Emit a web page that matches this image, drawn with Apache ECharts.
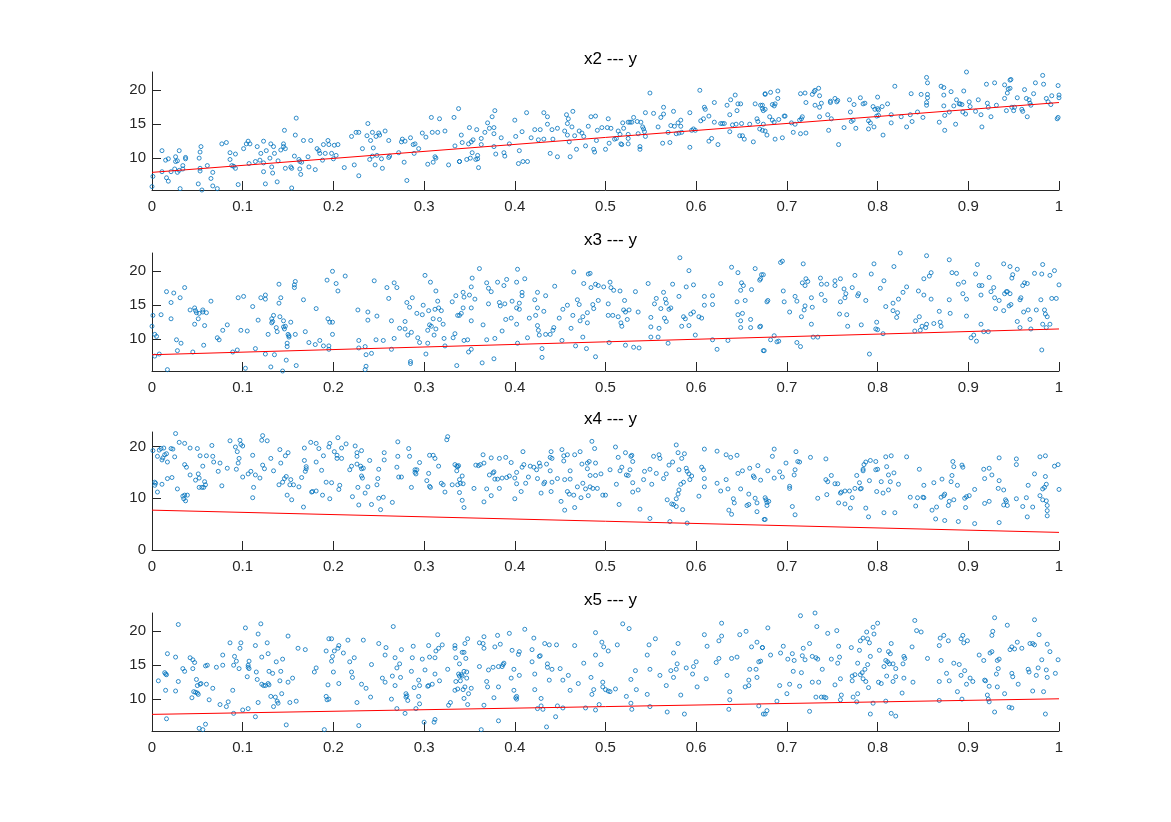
<!DOCTYPE html>
<html>
<head>
<meta charset="utf-8">
<script src="https://cdn.jsdelivr.net/npm/echarts@6/dist/echarts.min.js"></script>
<style>
  html, body { margin: 0; padding: 0; background: #fff; }
  #chart { width: 1171px; height: 822px; }
</style>
</head>
<body>
<div id="chart"></div>
<script>
// 四个子图：x2/x3/x4/x5 与 y 的散点 + 拟合直线
const titles = ['x2 --- y', 'x3 --- y', 'x4 --- y', 'x5 --- y']
const xTicksStep = 0.1
const yRange = [[5.3, 22.7], [5.3, 22.7], [0, 22.8], [5.3, 22.7]]
const yTicks = [[10, 15, 20], [10, 15, 20], [0, 10, 20], [10, 15, 20]]

// 拟合直线两端的 y 值（x = 0 和 x = 1）
const fitX2 = [7.9, 18.2]
const fitX3 = [7.7, 11.5]
const fitX4 = [7.7, 3.4]
const fitX5 = [7.75, 10.05]

const x2Pts = [
  [0,5.8],[0.001,7.3],[0.011,11.1],[0.015,9.7],[0.018,9.9],[0.016,7.1],[0.018,6.6],[0.011,8.0],[0.021,8.0],[0.026,10.2],
  [0.026,9.5],[0.028,9.6],[0.025,8.4],[0.028,7.9],[0.030,11.1],[0.030,8.2],[0.034,8.9],[0.034,8.4],[0.037,10.1],[0.037,9.9],
  [0.031,5.5],[0.051,6.2],[0.052,10.0],[0.053,10.9],[0.054,11.7],[0.053,8.5],[0.053,8.1],[0.055,5.3],[0.061,8.9],[0.065,7.0],
  [0.067,7.9],[0.067,5.9],[0.072,5.5],[0.077,12.1],[0.082,12.3],[0.086,10.8],[0.086,9.8],[0.088,8.9],[0.090,8.8],[0.092,10.6],
  [0.092,8.5],[0.095,6.1],[0.101,11.4],[0.104,12.1],[0.106,12.5],[0.108,12.1],[0.107,9.2],[0.114,9.5],[0.116,11.7],[0.119,9.7],
  [0.120,10.7],[0.123,12.5],[0.123,9.3],[0.123,8.0],[0.125,6.2],[0.126,11.1],[0.130,10.0],[0.131,12.1],[0.132,8.7],[0.133,7.8],
  [0.134,11.7],[0.135,10.7],[0.138,6.5],[0.139,9.6],[0.142,11.2],[0.145,12.1],[0.145,11.7],[0.146,14.1],[0.147,11.4],[0.147,8.5],
  [0.153,8.7],[0.154,8.5],[0.154,5.6],[0.157,10.3],[0.158,13.4],[0.159,15.9],[0.162,9.8],[0.163,8.4],[0.163,9.5],[0.164,7.6],
  [0.165,9.4],[0.167,12.6],[0.172,10.2],[0.173,8.7],[0.175,12.6],[0.180,8.3],[0.182,11.4],[0.184,11.1],[0.185,10.7],[0.188,9.7],
  [0.189,12.0],[0.191,10.7],[0.194,12.6],[0.195,12.0],[0.198,10.7],[0.200,9.9],[0.203,10.4],[0.205,12.0],[0.201,11.9],[0.212,8.6],
  [0.220,13.2],[0.223,9.0],[0.225,13.8],[0.228,7.4],[0.228,13.8],[0.232,11.4],[0.237,13.3],[0.238,15.1],[0.240,9.8],[0.241,12.6],
  [0.243,13.8],[0.243,10.3],[0.244,11.5],[0.246,9.0],[0.247,13.2],[0.248,10.4],[0.250,13.7],[0.251,13.4],[0.253,9.9],[0.254,8.5],
  [0.257,14.0],[0.261,10.1],[0.261,12.6],[0.262,10.3],[0.272,10.8],[0.275,12.4],[0.276,12.8],[0.278,9.4],[0.279,12.5],[0.281,6.7],
  [0.285,13.0],[0.288,12.0],[0.289,10.7],[0.290,12.1],[0.294,11.4],[0.298,13.7],[0.302,13.1],[0.304,9.1],[0.308,16.0],[0.309,13.8],
  [0.310,9.4],[0.312,10.2],[0.313,10.0],[0.315,13.8],[0.317,15.8],[0.323,14.0],[0.327,9.0],[0.333,16.0],[0.334,11.8],[0.338,17.3],
  [0.339,9.5],[0.341,13.4],[0.342,12.3],[0.339,9.5],[0.349,12.1],[0.350,14.5],[0.352,12.4],[0.347,9.8],[0.351,10.0],[0.353,10.8],
  [0.354,12.7],[0.357,9.8],[0.358,14.2],[0.359,10.4],[0.360,8.6],[0.359,9.9],[0.363,12.9],[0.363,12.0],[0.367,13.8],[0.370,15.2],
  [0.372,14.4],[0.375,16.1],[0.377,14.5],[0.378,17.0],[0.377,13.6],[0.379,10.6],[0.377,11.7],[0.385,13.0],[0.388,10.8],[0.389,10.3],
  [0.394,12.1],[0.400,15.6],[0.401,13.2],[0.404,9.2],[0.405,11.1],[0.408,13.9],[0.409,9.5],[0.413,16.7],[0.414,9.5],[0.418,13.0],
  [0.422,14.2],[0.426,12.7],[0.428,14.2],[0.432,12.8],[0.432,16.7],[0.436,16.1],[0.436,15.0],[0.439,10.7],[0.441,14.2],[0.442,12.8],
  [0.447,14.4],[0.447,10.2],[0.455,14.0],[0.457,16.4],[0.458,15.1],[0.458,13.4],[0.459,15.8],[0.460,12.4],[0.461,10.2],[0.463,14.6],
  [0.464,16.9],[0.466,13.3],[0.468,11.3],[0.471,14.0],[0.474,13.7],[0.476,13.2],[0.478,11.8],[0.481,14.7],[0.484,16.1],[0.487,11.3],
  [0.488,10.9],[0.489,16.2],[0.490,12.6],[0.491,14.1],[0.496,14.5],[0.500,11.3],[0.502,14.5],[0.503,15.8],[0.504,12.2],[0.506,14.4],
  [0.510,12.8],[0.512,12.9],[0.514,14.0],[0.516,13.5],[0.517,12.1],[0.518,12.0],[0.519,15.2],[0.520,14.4],[0.525,12.1],[0.525,12.9],
  [0.525,13.5],[0.525,15.3],[0.527,15.3],[0.529,15.3],[0.531,16.0],[0.535,15.4],[0.536,13.6],[0.538,11.7],[0.538,11.3],[0.539,15.3],
  [0.541,14.6],[0.542,14.3],[0.543,13.9],[0.544,13.2],[0.544,16.7],[0.549,19.6],[0.553,16.6],[0.558,14.6],[0.561,16.0],[0.563,12.2],
  [0.564,17.5],[0.564,16.5],[0.569,13.8],[0.571,12.3],[0.572,14.8],[0.575,16.9],[0.576,14.7],[0.578,13.6],[0.580,15.2],[0.581,13.7],
  [0.583,14.7],[0.583,15.6],[0.584,13.8],[0.593,11.6],[0.593,16.7],[0.595,14.1],[0.597,14.3],[0.599,14.1],[0.604,20.0],[0.605,15.5],
  [0.608,15.8],[0.609,17.5],[0.610,17.2],[0.614,12.5],[0.614,16.2],[0.617,12.9],[0.620,15.3],[0.620,18.2],[0.624,12.0],[0.627,15.1],
  [0.629,15.1],[0.631,15.1],[0.634,17.8],[0.637,16.4],[0.637,13.9],[0.638,18.6],[0.640,14.9],[0.643,19.3],[0.644,15.0],[0.645,17.0],
  [0.646,18.0],[0.648,13.3],[0.649,18.0],[0.650,15.1],[0.651,13.3],[0.653,12.8],[0.659,15.0],[0.663,12.4],[0.665,18.0],[0.667,15.8],
  [0.668,15.4],[0.670,14.3],[0.673,17.8],[0.674,15.0],[0.676,19.4],[0.676,17.2],
  [0.671,17.8],[0.673,17.3],[0.674,17.0],[0.676,19.5],[0.682,19.7],[0.684,17.9],[0.687,18.0],[0.690,19.9],[0.690,18.8],[0.686,17.7],
  [0.681,16.1],[0.684,15.6],[0.686,15.3],[0.691,15.7],[0.697,16.2],[0.698,16.2],[0.705,15.2],[0.709,15.0],[0.673,14.1],[0.676,14.0],
  [0.678,13.4],[0.687,12.8],[0.695,13.0],[0.707,13.8],[0.715,13.6],[0.721,13.7],[0.714,15.6],[0.716,15.8],[0.717,16.1],[0.715,19.5],
  [0.720,19.6],[0.721,18.2],[0.728,19.4],[0.730,19.8],[0.731,20.0],[0.735,20.3],[0.736,19.2],[0.731,17.8],[0.736,17.5],[0.738,18.1],
  [0.736,16.1],[0.745,16.4],[0.746,14.1],[0.748,18.2],[0.748,18.4],[0.749,15.8],[0.753,18.8],[0.755,18.3],[0.756,18.5],[0.757,12.0],
  [0.763,14.5],[0.769,18.6],[0.770,16.8],[0.771,15.4],[0.773,15.6],[0.774,17.9],[0.776,14.4],[0.781,18.9],[0.784,18.0],[0.786,18.1],
  [0.790,14.3],[0.790,15.5],[0.792,15.2],[0.795,17.6],[0.796,14.6],[0.797,17.2],[0.800,17.3],[0.800,19.0],[0.801,17.1],[0.799,16.2],
  [0.801,16.3],[0.805,17.6],[0.806,13.4],[0.811,18.0],[0.815,16.4],[0.815,15.2],[0.819,20.6],[0.826,16.1],[0.832,14.6],[0.836,16.4],
  [0.837,19.5],[0.838,15.4],[0.844,16.8],[0.848,19.4],[0.850,16.0],[0.854,18.2],[0.854,17.8],[0.854,21.9],[0.855,21.1],[0.855,19.4],
  [0.855,18.9],[0.868,15.3],[0.870,20.6],[0.873,20.4],[0.873,19.3],[0.873,17.7],[0.874,16.3],[0.874,14.1],[0.879,16.8],[0.881,19.8],
  [0.884,17.7],[0.886,15.0],[0.887,18.6],[0.890,18.0],[0.891,18.0],[0.893,17.9],[0.895,19.9],[0.894,16.8],[0.897,16.5],[0.898,22.7],
  [0.901,18.3],[0.902,17.6],[0.908,16.9],[0.911,18.6],[0.914,16.4],[0.915,14.6],[0.920,20.9],[0.921,18.1],[0.922,17.5],[0.925,16.1],
  [0.929,21.1],[0.931,17.8],[0.940,18.8],[0.940,20.8],[0.942,17.0],[0.943,19.6],[0.944,20.2],[0.946,20.3],[0.946,21.5],[0.947,21.6],
  [0.948,17.5],[0.950,17.0],[0.951,17.5],[0.954,18.9],[0.959,17.2],[0.960,16.9],[0.962,20.1],[0.964,18.8],[0.965,16.1],[0.967,18.6],
  [0.968,18.1],[0.969,17.8],[0.972,19.5],[0.974,21.1],[0.982,22.2],[0.983,20.9],[0.986,18.8],[0.988,18.3],[0.991,17.9],[0.992,19.2],
  [0.998,15.8],[0.999,16.0],[0.999,20.7],[1.0,19.3],[1.0,18.9]
]

const x3Pts = [
  [0,11.9],[0.001,13.5],[0.003,10.7],[0.003,7.5],[0.005,10.4],[0.008,7.8],[0.010,13.6],[0.016,17.0],[0.017,5.5],[0.021,15.4],
  [0.021,13.0],[0.024,16.8],[0.027,9.9],[0.028,8.3],[0.031,16.1],[0.032,9.4],[0.036,17.6],[0.042,14.3],[0.045,8.1],[0.047,14.6],
  [0.047,12.2],[0.048,14.2],[0.049,13.9],[0.051,13.0],[0.052,13.8],[0.056,14.3],[0.056,14.0],[0.057,9.1],[0.058,12.0],[0.060,13.9],
  [0.065,15.6],[0.072,10.2],[0.074,9.9],[0.078,11.3],[0.083,12.1],[0.089,8.1],[0.094,8.4],[0.095,16.1],[0.098,11.3],[0.101,16.3],
  [0.103,5.7],[0.105,11.2],[0.111,14.8],[0.114,8.6],[0.117,12.8],[0.120,16.1],[0.125,16.5],[0.125,15.9],[0.125,7.8],[0.128,10.7],
  [0.131,5.9],[0.132,12.4],[0.132,13.0],[0.133,12.6],[0.134,13.5],[0.135,7.7],[0.137,11.7],[0.138,11.1],[0.140,18.1],[0.140,15.3],
  [0.141,13.3],[0.142,16.1],[0.144,5.3],[0.145,11.8],[0.145,12.7],[0.146,11.5],[0.147,11.9],[0.148,6.9],[0.149,9.4],[0.149,8.9],
  [0.150,10.7],[0.151,10.5],[0.151,10.3],[0.153,12.5],[0.157,17.6],[0.157,18.0],[0.158,18.5],[0.158,10.7],[0.159,6.1],[0.167,15.8],
  [0.169,11.1],[0.173,9.5],[0.180,9.2],[0.181,14.5],[0.185,9.8],[0.189,9.0],[0.193,18.7],[0.194,13.0],[0.195,9.0],[0.195,8.5],
  [0.196,12.5],[0.199,20.0],[0.199,12.5],[0.199,10.7],[0.203,18.2],[0.205,17.1],[0.213,19.3],[0.227,14.3],[0.228,8.7],[0.228,9.8],
  [0.235,8.9],[0.236,7.7],[0.236,6.0],[0.235,5.5],[0.238,12.8],[0.238,14.0],[0.242,7.9],[0.245,18.6],[0.247,9.9],[0.248,13.4],
  [0.255,9.8],[0.259,17.6],[0.261,16.0],[0.264,12.7],[0.264,8.5],[0.267,10.1],[0.267,18.3],[0.270,17.6],[0.273,11.6],[0.279,12.6],
  [0.279,11.5],[0.281,15.4],[0.282,10.6],[0.284,14.7],[0.285,6.7],[0.285,6.4],[0.286,11.0],[0.287,16.1],[0.292,13.8],[0.293,10.2],
  [0.295,9.5],[0.298,13.6],[0.299,15.0],[0.301,19.4],[0.302,7.8],[0.304,11.3],[0.304,9.4],[0.305,14.2],[0.306,12.1],[0.307,18.4],
  [0.308,11.9],[0.310,13.0],[0.311,10.6],[0.312,14.4],[0.313,11.5],[0.313,17.1],[0.315,15.6],[0.316,14.6],[0.317,12.9],[0.319,14.2],
  [0.321,12.2],[0.322,10.1],[0.323,9.0],[0.331,15.5],[0.332,10.2],[0.334,10.8],[0.335,16.4],[0.336,6.1],[0.337,13.5],
  [0.339,13.5],[0.341,13.8],[0.343,16.9],[0.343,14.6],[0.344,16.2],[0.344,9.8],[0.348,9.9],[0.349,8.1],[0.350,16.5],[0.352,17.7],
  [0.352,14.6],[0.352,12.7],[0.352,8.5],[0.353,19.0],[0.356,15.9],[0.361,20.4],[0.364,6.5],[0.365,12.1],[0.369,18.3],[0.369,9.9],
  [0.371,17.5],[0.371,15.2],[0.374,17.0],[0.377,7.1],[0.378,10.1],[0.381,18.4],[0.383,15.4],[0.384,14.9],[0.386,11.2],[0.388,17.9],
  [0.389,15.2],[0.390,12.9],[0.391,18.8],[0.396,13.1],[0.397,15.6],[0.399,5.2],[0.402,12.2],[0.402,18.4],[0.402,14.6],[0.403,20.3],
  [0.403,9.4],[0.405,14.4],[0.405,15.3],[0.408,16.9],[0.408,16.4],[0.411,18.9],[0.414,10.2],[0.416,13.1],[0.422,15.8],[0.423,13.5],
  [0.425,14.6],[0.425,16.9],[0.425,12.0],[0.426,11.3],[0.427,10.6],[0.430,8.6],[0.430,7.3],[0.432,14.1],[0.434,10.7],[0.434,16.4],
  [0.439,10.7],[0.442,11.3],[0.443,11.7],[0.444,17.8],[0.449,13.1],[0.452,9.8],[0.453,14.4],[0.458,15.0],[0.462,11.6],[0.464,13.5],
  [0.465,19.9],[0.467,9.0],[0.469,15.8],[0.471,15.1],[0.472,12.7],[0.475,10.3],[0.475,13.3],[0.476,18.2],[0.479,8.6],[0.480,13.9],
  [0.480,12.4],[0.481,19.6],[0.483,19.7],[0.484,17.6],[0.486,15.1],[0.487,14.5],[0.489,7.4],[0.489,18.1],[0.492,15.7],[0.492,17.9],
  [0.498,17.7],[0.503,13.5],[0.503,15.2],[0.504,9.5],[0.505,18.4],[0.506,17.6],[0.508,13.5],[0.509,17.2],[0.514,13.3],[0.516,17.1],
  [0.517,12.4],[0.518,11.9],[0.520,14.3],[0.521,15.7],[0.522,9.1],[0.522,14.0],[0.524,12.9],[0.526,14.3],[0.531,8.8],[0.533,17.0],
  [0.536,14.0],[0.537,8.7],[0.547,18.2],[0.550,10.3],[0.550,13.2],[0.550,11.8],[0.554,15.2],[0.556,16.0],[0.558,10.3],[0.559,11.6],
  [0.561,14.5],[0.564,16.9],[0.565,13.1],[0.566,15.9],[0.567,12.6],[0.567,15.3],[0.569,9.4],[0.570,14.4],[0.572,14.6],[0.574,18.1],
  [0.581,16.3],[0.582,22.0],[0.584,11.9],[0.586,13.3],[0.588,13.0],[0.589,17.7],[0.592,20.1],[0.592,12.0],[0.594,13.7],[0.597,18.0],
  [0.597,14.0],[0.599,10.6],[0.603,13.3],[0.606,13.1],[0.609,16.3],[0.609,15.0],[0.618,16.4],[0.618,15.1],[0.618,9.9],[0.623,8.5],
  [0.627,18.2],[0.635,9.8],[0.639,20.6],[0.645,15.5],[0.646,19.8],[0.646,13.6],[0.649,17.2],[0.649,12.7],[0.649,11.7],[0.650,18.3],
  [0.651,13.8],[0.652,17.9],[0.654,15.7],[0.660,12.9],[0.660,11.7],[0.661,17.3],[0.665,20.4],[0.670,11.8],[0.670,18.7],[0.672,19.5],
  [0.674,8.3],
  [0.671,18.9],[0.674,19.5],[0.671,11.9],[0.675,8.3],[0.678,15.5],[0.679,15.7],[0.682,9.9],[0.686,10.5],[0.689,9.6],[0.691,9.7],
  [0.693,21.3],[0.695,21.5],[0.696,17.1],[0.697,15.5],[0.703,14.0],[0.709,16.3],[0.711,15.6],[0.711,9.5],[0.715,8.9],[0.716,13.3],
  [0.718,21.1],[0.719,14.3],[0.717,18.3],[0.720,14.9],[0.720,17.9],[0.721,18.9],[0.723,18.5],[0.727,12.2],[0.727,16.1],[0.728,14.7],
  [0.729,10.3],[0.734,10.3],[0.737,19.0],[0.738,16.6],[0.738,18.1],[0.742,15.7],[0.744,18.1],[0.753,18.6],[0.753,17.9],[0.758,13.7],
  [0.759,15.5],[0.759,18.9],[0.763,17.4],[0.764,16.1],[0.765,16.7],[0.766,13.6],[0.767,11.9],[0.772,17.6],[0.775,19.4],[0.778,16.4],
  [0.779,16.7],[0.782,12.1],[0.787,15.7],[0.791,7.8],[0.793,19.6],[0.796,21.1],[0.798,11.5],[0.799,12.5],[0.800,11.4],[0.803,17.5],
  [0.806,10.8],[0.807,18.6],[0.809,14.8],[0.817,14.2],[0.818,20.7],[0.817,15.3],[0.821,13.2],[0.822,13.9],[0.823,15.9],[0.825,22.7],
  [0.828,16.9],[0.832,17.7],[0.841,11.2],[0.842,12.7],[0.845,17.1],[0.846,13.3],[0.847,11.3],[0.849,11.9],[0.851,18.9],[0.851,16.5],
  [0.853,11.7],[0.854,22.3],[0.854,12.2],[0.857,19.3],[0.859,19.8],[0.859,15.9],[0.862,12.3],[0.868,14.1],[0.869,12.5],[0.870,11.9],
  [0.879,21.7],[0.879,15.8],[0.880,13.8],[0.882,19.8],[0.887,19.7],[0.889,18.1],[0.894,16.7],[0.895,18.4],[0.898,15.9],[0.898,13.4],
  [0.903,10.2],[0.906,10.6],[0.908,19.6],[0.909,9.7],[0.910,21.0],[0.912,17.9],[0.914,16.5],[0.914,12.2],[0.915,17.9],[0.917,11.1],
  [0.922,11.1],[0.923,19.1],[0.925,17.0],[0.928,17.6],[0.929,16.1],[0.930,14.5],[0.934,15.7],[0.939,21.1],[0.939,14.2],[0.940,16.7],
  [0.942,17.0],[0.943,17.0],[0.945,14.9],[0.946,20.7],[0.946,16.7],[0.947,15.1],[0.948,19.0],[0.949,19.5],[0.954,20.3],[0.954,12.6],
  [0.957,15.8],[0.957,11.7],[0.958,16.1],[0.960,17.9],[0.961,14.0],[0.962,18.3],[0.965,18.2],[0.966,14.3],[0.968,12.9],[0.969,11.5],
  [0.973,19.7],[0.975,14.3],[0.980,15.8],[0.981,8.4],[0.981,19.6],[0.982,21.0],[0.982,12.2],[0.984,14.3],[0.985,13.7],[0.986,11.7],
  [0.987,13.3],[0.990,12.2],[0.990,19.4],[0.992,16.0],[0.995,20.1],[0.997,16.0],[1.0,18.0]
]

const x4Pts = [
  [0.001,19.2],[0.003,13.1],[0.003,12.5],[0.004,12.9],[0.006,18.1],[0.006,11.2],[0.008,19.3],[0.010,19.6],[0.011,17.4],[0.011,12.7],
  [0.012,17.8],[0.013,19.7],[0.014,18.4],[0.016,18.6],[0.017,17.0],[0.017,13.8],[0.021,19.6],[0.022,14.0],[0.023,19.5],[0.025,18.0],
  [0.026,22.5],[0.028,11.8],[0.030,20.8],[0.034,10.4],[0.035,9.9],[0.036,20.6],[0.036,16.5],[0.036,10.6],[0.037,9.5],[0.038,16.0],
  [0.039,10.6],[0.042,14.5],[0.042,19.7],[0.048,13.5],[0.050,19.6],[0.051,14.7],[0.052,13.9],[0.052,12.1],[0.053,18.2],[0.055,12.1],
  [0.056,16.2],[0.057,12.1],[0.058,13.2],[0.059,12.6],[0.060,18.2],[0.063,22.9],[0.066,20.2],[0.067,18.1],[0.068,17.0],[0.073,15.2],
  [0.075,16.8],[0.077,12.4],[0.083,15.8],[0.086,21.1],[0.092,19.9],[0.093,15.6],[0.094,19.0],[0.095,16.8],[0.096,17.7],[0.097,21.2],
  [0.098,20.4],[0.100,14.1],[0.100,20.1],[0.106,14.7],[0.109,15.2],[0.111,18.3],[0.111,10.1],[0.112,12.1],[0.114,14.5],[0.119,13.9],
  [0.121,21.2],[0.122,22.1],[0.122,16.4],[0.124,15.7],[0.127,21.1],[0.131,17.7],[0.134,15.3],[0.140,12.6],[0.141,19.4],[0.142,16.8],
  [0.144,13.1],[0.146,13.8],[0.147,18.2],[0.148,14.2],[0.149,10.6],[0.150,18.8],[0.152,12.6],[0.153,13.6],[0.154,9.7],[0.156,12.6],
  [0.162,12.2],[0.165,14.0],[0.167,8.3],[0.168,19.7],[0.168,17.3],[0.169,15.2],[0.170,16.1],[0.170,15.7],[0.175,20.8],[0.176,11.2],
  [0.177,11.3],[0.181,11.4],[0.181,20.6],[0.181,17.0],[0.184,19.6],[0.187,15.4],[0.188,10.6],[0.189,18.2],[0.192,13.1],[0.195,19.9],
  [0.196,9.9],[0.196,20.6],[0.198,13.0],[0.201,19.0],[0.204,18.3],[0.204,17.7],[0.205,21.7],[0.206,11.7],[0.207,12.5],[0.209,17.7],
  [0.209,19.7],[0.214,20.5],[0.218,15.5],[0.220,16.2],[0.221,10.3],[0.224,20.1],[0.226,18.1],[0.226,18.8],[0.226,16.6],[0.227,12.1],
  [0.228,8.7],[0.230,16.2],[0.231,15.7],[0.231,19.2],[0.231,14.3],[0.232,13.9],[0.233,15.8],[0.235,11.0],[0.238,12.2],[0.240,17.3],
  [0.242,8.8],[0.248,12.6],[0.249,13.8],[0.250,15.6],[0.250,10.0],[0.252,7.8],[0.255,10.2],[0.256,17.4],[0.256,18.8],[0.265,9.2],
  [0.270,16.0],[0.271,20.9],[0.271,18.1],[0.272,14.1],[0.275,14.1],[0.283,19.6],[0.284,18.1],[0.286,12.1],[0.290,15.0],[0.290,15.5],
  [0.291,14.7],[0.292,15.5],[0.295,16.9],[0.303,13.4],[0.305,14.8],[0.306,18.3],[0.306,12.3],[0.307,12.1],[0.310,18.3],[0.312,17.7],
  [0.316,16.2],[0.319,12.9],[0.321,12.6],[0.323,11.2],[0.325,21.3],[0.326,21.9],[0.331,12.6],[0.336,16.2],[0.337,12.6],[0.339,13.6],
  [0.334,16.5],[0.337,16.1],[0.338,16.3],[0.336,15.3],[0.342,14.3],[0.340,12.9],[0.343,12.8],[0.339,11.1],[0.342,9.6],[0.344,8.2],
  [0.355,11.9],[0.357,16.4],[0.360,16.3],[0.362,16.5],[0.365,18.4],[0.366,16.8],[0.366,9.3],[0.369,11.8],[0.372,14.5],[0.374,17.8],
  [0.374,10.5],[0.376,14.9],[0.377,15.1],[0.378,13.7],[0.381,13.7],[0.383,17.7],[0.383,11.9],[0.386,13.9],[0.390,17.9],[0.391,14.0],
  [0.394,14.3],[0.396,16.9],[0.400,9.9],[0.400,13.9],[0.402,15.0],[0.402,12.8],[0.407,11.3],[0.408,16.0],[0.409,19.0],[0.410,16.5],
  [0.412,12.9],[0.415,14.1],[0.417,16.2],[0.421,16.0],[0.424,15.5],[0.425,13.8],[0.427,16.8],[0.428,16.2],[0.429,11.0],[0.432,12.8],
  [0.433,13.1],[0.435,16.6],[0.439,17.9],[0.439,15.3],[0.440,19.0],[0.440,11.3],[0.441,17.7],[0.441,13.1],[0.447,13.8],[0.451,9.4],
  [0.452,19.4],[0.454,18.2],[0.454,17.2],[0.455,13.6],[0.455,7.7],[0.458,18.4],[0.458,11.3],[0.460,10.8],[0.461,15.3],[0.461,13.7],
  [0.465,10.6],[0.466,8.2],[0.466,18.4],[0.469,12.2],[0.472,19.0],[0.473,10.1],[0.474,16.6],[0.475,12.9],[0.478,11.8],[0.480,16.8],
  [0.480,15.7],[0.481,10.5],[0.482,17.1],[0.483,14.4],[0.483,12.2],[0.485,21.0],[0.486,11.9],[0.488,19.6],[0.489,16.8],[0.489,14.4],
  [0.491,11.9],[0.495,14.7],[0.497,10.6],[0.500,10.6],[0.505,15.5],[0.511,19.9],[0.512,12.7],[0.514,17.9],[0.515,8.8],[0.516,15.3],
  [0.518,16.0],[0.522,18.8],[0.523,14.5],[0.525,14.4],[0.527,15.5],[0.528,18.1],[0.529,18.3],[0.530,17.1],[0.530,13.0],[0.530,11.2],
  [0.536,11.6],[0.538,7.9],[0.542,13.6],[0.543,15.2],[0.549,15.6],[0.549,6.1],[0.551,12.7],[0.553,18.1],[0.556,14.8],[0.559,18.4],
  [0.560,17.7],[0.564,13.8],[0.567,14.7],[0.568,9.7],[0.570,16.4],[0.571,5.5],[0.573,8.9],[0.574,17.0],[0.575,8.8],[0.578,20.3],
  [0.578,9.9],[0.578,8.4],[0.580,18.8],[0.580,10.8],[0.581,15.5],[0.581,11.6],[0.583,12.7],[0.584,17.7],[0.585,7.8],[0.586,13.1],
  [0.587,18.6],[0.589,15.8],[0.590,15.2],[0.590,5.2],[0.592,14.7],[0.593,13.6],[0.595,14.3],[0.603,10.4],[0.606,16.0],[0.608,15.5],
  [0.609,19.5],[0.609,13.8],[0.609,12.2],[0.623,19.1],[0.623,12.9],[0.627,11.4],[0.633,18.4],[0.633,13.6],[0.635,11.8],[0.636,7.7],
  [0.638,17.9],[0.639,6.9],[0.641,9.9],[0.642,9.1],[0.645,18.3],[0.646,14.8],[0.649,11.8],[0.651,15.3],[0.656,8.6],[0.658,10.8],
  [0.658,8.8],[0.659,15.8],[0.663,14.3],[0.664,14.0],[0.665,10.0],[0.667,9.1],[0.667,7.4],[0.668,16.3],[0.671,13.5],[0.675,5.9],
  [0.676,10.1],[0.677,9.7],[0.678,9.2],[0.678,8.6],[0.680,9.4],[0.676,5.9],[0.679,15.3],[0.684,18.1],[0.686,19.5],[0.686,13.9],
  [0.692,15.1],[0.695,14.1],[0.699,16.8],[0.703,12.3],[0.703,11.9],[0.706,8.4],[0.708,14.5],[0.709,6.8],[0.709,15.5],[0.710,19.0],
  [0.712,17.1],[0.714,17.0],[0.726,17.9],[0.734,10.0],[0.743,17.6],[0.743,13.6],[0.744,10.7],[0.745,13.2],[0.749,14.4],[0.753,12.8],
  [0.756,12.8],[0.757,9.1],[0.759,11.0],[0.760,11.2],[0.764,11.4],[0.764,8.9],[0.769,11.4],[0.770,8.1],[0.772,10.1],[0.775,11.9],
  [0.777,14.4],[0.780,13.0],[0.781,11.8],[0.782,11.9],[0.784,15.6],[0.784,15.3],[0.785,16.5],[0.787,17.0],[0.787,8.1],[0.790,6.4],
  [0.791,13.4],[0.792,17.3],[0.798,17.1],[0.798,15.5],[0.799,11.3],[0.800,15.6],[0.804,13.2],[0.806,11.0],[0.807,7.2],[0.809,18.0],
  [0.810,16.1],[0.812,14.5],[0.812,11.6],[0.814,13.2],[0.815,18.2],[0.818,14.9],[0.819,7.2],[0.823,12.7],[0.832,18.0],[0.836,10.2],
  [0.842,8.5],[0.844,10.1],[0.846,15.6],[0.850,10.2],[0.851,10.1],[0.851,12.5],[0.860,7.7],[0.862,13.0],[0.864,6.0],[0.865,8.3],
  [0.870,10.2],[0.871,13.7],[0.873,10.5],[0.874,10.8],[0.874,5.7],[0.878,8.6],[0.879,9.4],[0.881,13.2],[0.882,14.4],[0.883,17.1],
  [0.884,9.7],[0.884,16.1],[0.888,12.5],[0.889,5.5],[0.893,16.4],[0.894,16.0],[0.896,10.0],[0.897,8.2],[0.898,10.3],[0.901,10.5],
  [0.907,11.7],[0.907,5.1],[0.917,15.6],[0.918,13.8],[0.918,9.0],[0.923,15.8],[0.923,9.4],[0.926,14.5],[0.933,11.9],[0.934,17.8],
  [0.934,13.4],[0.934,5.3],[0.939,11.6],[0.939,8.7],[0.941,9.7],[0.942,9.4],[0.943,8.6],[0.953,17.6],[0.953,16.5],[0.953,9.9],
  [0.960,8.4],[0.964,10.1],[0.965,6.4],[0.966,12.5],[0.971,8.3],[0.973,14.7],[0.979,18.0],[0.979,10.5],[0.982,11.8],[0.982,9.7],
  [0.984,12.1],[0.985,14.2],[0.985,18.2],[0.986,12.7],[0.986,9.5],[0.987,8.6],[0.987,7.6],[0.987,6.6],[0.995,16.2],[0.999,16.5],
  [1.0,11.7]
]

const x5Pts = [
  [0.007,12.7],[0.014,13.9],[0.015,13.7],[0.016,13.6],[0.015,11.3],[0.016,7.1],[0.017,16.7],[0.026,16.2],[0.026,11.2],[0.029,21.0],
  [0.029,12.6],[0.034,14.5],[0.036,14.1],[0.042,16.1],[0.044,10.2],[0.045,15.8],[0.045,14.5],[0.046,11.1],[0.047,15.4],[0.048,11.0],
  [0.049,12.9],[0.050,10.9],[0.050,12.0],[0.051,10.7],[0.052,5.7],[0.053,12.2],[0.054,12.3],[0.056,5.5],[0.059,14.9],[0.059,6.3],
  [0.060,12.2],[0.061,15.0],[0.063,9.9],[0.067,11.6],[0.071,14.7],[0.075,9.2],[0.078,16.5],[0.078,15.0],[0.082,8.9],[0.084,9.6],
  [0.086,18.3],[0.089,11.3],[0.090,7.9],[0.090,15.0],[0.091,16.3],[0.093,15.6],[0.096,14.5],[0.097,17.5],[0.098,18.3],[0.100,8.4],
  [0.103,20.5],[0.105,13.3],[0.106,14.7],[0.106,15.0],[0.106,8.6],[0.107,15.6],[0.107,14.5],[0.114,7.4],[0.114,17.9],[0.115,14.0],
  [0.116,12.9],[0.117,19.6],[0.117,9.5],[0.120,21.1],[0.121,16.2],[0.121,12.2],[0.123,12.0],[0.125,12.0],[0.127,18.3],[0.128,16.7],
  [0.128,12.3],[0.129,14.1],[0.129,12.1],[0.131,10.4],[0.133,13.8],[0.134,8.9],[0.136,10.3],[0.137,15.5],[0.138,9.7],[0.139,9.4],
  [0.141,12.7],[0.142,14.1],[0.143,10.8],[0.144,15.9],[0.148,6.2],[0.150,19.3],[0.150,12.5],[0.152,9.5],[0.155,13.1],[0.159,9.7],
  [0.161,17.5],[0.165,5.2],[0.169,17.3],[0.179,14.0],[0.181,14.6],[0.190,5.5],[0.192,17.1],[0.192,10.4],[0.193,9.9],[0.194,12.1],
  [0.195,18.9],[0.195,10.0],[0.198,18.9],[0.198,15.6],[0.199,16.3],[0.200,14.0],[0.201,17.1],[0.205,17.5],[0.206,12.3],[0.206,17.9],
  [0.211,16.8],[0.216,18.7],[0.218,15.5],[0.220,14.0],[0.221,13.2],[0.223,16.1],[0.226,9.5],[0.228,6.1],[0.231,12.2],[0.233,18.7],
  [0.236,11.6],[0.241,10.3],[0.242,15.1],[0.250,18.2],[0.254,13.1],[0.257,12.5],[0.257,16.5],[0.258,17.6],[0.264,10.0],[0.265,13.4],
  [0.266,20.7],[0.268,16.1],[0.268,12.0],[0.270,14.6],[0.270,8.6],[0.273,15.2],[0.274,13.2],[0.275,17.3],[0.279,7.9],[0.280,10.8],
  [0.280,10.3],[0.281,10.5],[0.282,9.8],[0.286,14.1],[0.287,16.1],[0.288,17.8],[0.289,11.7],[0.291,8.6],[0.294,10.4],[0.294,12.8],
  [0.295,9.3],[0.295,12.0],[0.298,15.9],[0.300,6.6],[0.301,14.3],[0.304,11.9],[0.305,12.0],[0.305,17.9],[0.306,16.2],[0.309,12.2],
  [0.311,6.6],[0.312,16.1],[0.312,13.7],[0.312,7.0],[0.313,17.1],[0.315,19.5],[0.316,17.5],[0.317,12.7],[0.320,18.0],[0.326,14.4],
  [0.327,9.1],[0.329,9.5],[0.334,11.3],[0.334,17.9],[0.335,16.1],[0.337,11.5],[0.338,13.7],[0.339,15.2],
  [0.334,17.5],[0.335,12.6],[0.339,13.4],[0.340,12.7],[0.341,13.6],[0.342,16.9],[0.342,13.4],[0.343,11.4],[0.344,14.1],[0.344,10.1],
  [0.344,16.9],[0.345,18.2],[0.345,11.8],[0.346,16.0],[0.347,13.1],[0.347,14.0],[0.348,18.9],[0.348,9.2],[0.349,10.8],[0.352,11.6],
  [0.361,14.8],[0.361,18.3],[0.363,5.5],[0.365,18.2],[0.366,17.5],[0.366,19.2],[0.366,9.1],[0.369,12.6],[0.370,11.8],[0.371,14.3],
  [0.376,14.7],[0.377,10.2],[0.378,17.7],[0.381,19.4],[0.382,14.8],[0.382,11.8],[0.382,6.8],[0.384,18.1],[0.386,14.8],[0.387,15.1],
  [0.388,15.3],[0.394,19.7],[0.396,13.1],[0.397,17.2],[0.399,14.4],[0.399,11.3],[0.401,10.2],[0.402,10.0],[0.402,10.4],[0.404,16.6],
  [0.405,13.5],[0.405,17.0],[0.411,20.3],[0.419,17.3],[0.419,15.5],[0.421,19.0],[0.422,11.4],[0.422,13.7],[0.425,8.6],[0.427,16.3],
  [0.428,16.4],[0.429,10.1],[0.429,9.0],[0.431,8.5],[0.433,18.2],[0.435,5.9],[0.436,14.7],[0.436,15.2],[0.438,12.8],[0.438,18.0],
  [0.441,14.4],[0.445,7.4],[0.446,18.0],[0.447,9.0],[0.450,14.5],[0.453,12.8],[0.453,8.7],[0.459,13.5],[0.461,11.3],[0.466,17.9],
  [0.470,12.3],[0.476,15.3],[0.478,8.7],[0.484,13.2],[0.485,10.7],[0.487,11.4],[0.489,8.4],[0.489,19.8],[0.489,16.5],[0.493,9.2],
  [0.495,15.1],[0.496,18.4],[0.497,12.5],[0.497,11.8],[0.498,17.7],[0.500,11.4],[0.503,17.1],[0.503,11.2],[0.505,11.1],[0.511,11.5],
  [0.513,18.0],[0.519,21.1],[0.523,10.4],[0.526,20.4],[0.528,12.9],[0.528,9.4],[0.529,8.5],[0.533,14.2],[0.534,11.4],[0.546,10.7],
  [0.546,16.5],[0.548,18.0],[0.549,14.4],[0.549,8.9],[0.555,18.9],[0.560,13.5],[0.567,12.0],[0.568,8.1],[0.572,14.2],[0.575,16.8],
  [0.575,13.2],[0.578,14.4],[0.579,15.2],[0.580,18.2],[0.583,10.6],[0.587,7.8],[0.589,14.6],[0.596,13.7],[0.597,14.8],[0.600,15.5],
  [0.601,11.8],[0.609,19.5],[0.611,13.0],[0.612,17.8],[0.622,15.4],[0.625,16.0],[0.625,18.6],[0.628,21.2],[0.628,19.3],[0.634,13.5],
  [0.637,11.1],[0.637,9.9],[0.636,8.5],[0.639,16.0],[0.645,16.2],[0.648,19.5],[0.654,11.8],[0.655,20.0],[0.658,12.0],[0.658,12.8],
  [0.659,14.4],[0.661,17.7],[0.666,14.4],[0.667,13.2],[0.667,18.4],[0.669,15.5],[0.669,9.0],[0.673,17.6],[0.674,7.8],
  [0.671,15.6],[0.673,17.6],[0.676,7.8],[0.678,8.3],[0.679,20.5],[0.682,16.5],[0.689,9.7],[0.692,12.0],[0.693,16.8],[0.696,17.8],
  [0.700,10.8],[0.701,15.9],[0.703,12.2],[0.706,16.7],[0.707,14.1],[0.708,15.7],[0.714,11.9],[0.715,22.3],[0.716,13.9],[0.717,16.4],
  [0.718,17.5],[0.720,15.8],[0.725,8.2],[0.725,18.2],[0.728,16.3],[0.728,12.5],[0.731,22.7],[0.732,16.1],[0.732,10.3],[0.733,20.7],
  [0.734,15.9],[0.735,12.5],[0.738,10.3],[0.739,14.4],[0.741,10.3],[0.743,10.2],[0.745,19.7],[0.749,15.9],[0.753,12.1],[0.755,20.1],
  [0.756,15.3],[0.757,17.8],[0.758,16.2],[0.759,13.0],[0.759,9.9],[0.760,10.6],[0.771,17.6],[0.772,13.4],[0.772,12.7],[0.773,10.3],
  [0.775,13.6],[0.777,9.6],[0.778,10.8],[0.778,15.3],[0.780,17.2],[0.781,13.6],[0.781,18.6],[0.783,13.9],[0.784,19.0],[0.784,13.0],
  [0.786,14.4],[0.787,12.6],[0.788,19.9],[0.789,18.9],[0.789,15.1],[0.790,11.7],[0.791,18.3],[0.792,16.3],[0.792,7.8],[0.795,20.6],
  [0.795,9.4],[0.796,19.6],[0.800,21.2],[0.801,12.5],[0.802,17.2],[0.804,12.3],[0.807,14.8],[0.809,15.7],[0.809,9.7],[0.810,13.4],
  [0.811,15.5],[0.812,17.0],[0.813,15.2],[0.814,16.7],[0.815,7.9],[0.815,18.2],[0.817,15.2],[0.817,12.6],[0.820,7.5],[0.820,14.5],
  [0.820,13.3],[0.827,10.9],[0.828,15.2],[0.829,13.1],[0.829,16.3],[0.830,16.0],[0.838,17.7],[0.839,12.5],[0.841,21.6],[0.843,20.1],
  [0.848,19.9],[0.855,16.0],[0.868,17.9],[0.868,12.6],[0.868,9.8],[0.869,19.0],[0.870,15.7],[0.873,19.4],[0.876,13.8],[0.878,18.6],
  [0.879,12.7],[0.884,15.3],[0.888,11.1],[0.890,15.1],[0.892,18.9],[0.892,13.5],[0.893,10.0],[0.894,19.4],[0.895,18.3],[0.896,14.2],
  [0.898,12.2],[0.899,18.6],[0.902,13.1],[0.905,12.6],[0.912,16.5],[0.917,15.7],[0.918,12.8],[0.919,12.7],[0.921,10.6],[0.922,10.0],
  [0.923,11.9],[0.923,9.6],[0.924,16.8],[0.926,17.0],[0.926,19.4],[0.927,20.0],[0.929,8.1],[0.929,22.0],[0.931,13.7],[0.932,11.8],
  [0.932,15.7],[0.933,14.5],[0.934,15.9],[0.940,10.8],[0.943,20.9],[0.945,8.8],[0.946,17.3],[0.948,8.7],[0.948,17.7],[0.948,13.8],
  [0.949,13.3],[0.951,17.4],[0.954,18.4],[0.955,12.2],[0.959,17.5],[0.966,14.4],[0.967,14.0],[0.968,18.2],[0.971,18.2],[0.971,11.2],
  [0.973,21.7],[0.973,18.0],[0.975,13.5],[0.977,14.6],[0.978,19.5],[0.981,15.8],[0.983,11.1],[0.985,7.8],[0.986,14.3],[0.987,13.2],
  [0.987,18.1],[0.990,17.0],[0.996,13.8],[0.999,15.8]
]

const panels = [
  { pts: x2Pts, fit: fitX2 },
  { pts: x3Pts, fit: fitX3 },
  { pts: x4Pts, fit: fitX4 },
  { pts: x5Pts, fit: fitX5 }
]

const axisColor = '#262626'
const fontFamily = '"Liberation Sans", Arial, Helvetica, sans-serif'
const gridTops = [72, 253, 432, 613]
const gridLeft = 152
const gridRight = 112
const gridHeight = 118

const chart = echarts.init(document.getElementById('chart'), null, { renderer: 'canvas' })

const grid = []
const xAxis = []
const yAxis = []
const title = []
const series = []

panels.forEach((p, i) => {
  grid.push({ left: gridLeft, right: gridRight, top: gridTops[i], height: gridHeight, containLabel: false })
  title.push({
    text: titles[i],
    left: gridLeft + (1171 - gridLeft - gridRight) / 2,
    textAlign: 'center',
    top: gridTops[i] - 26,
    textStyle: { fontFamily, fontSize: 17, fontWeight: 'normal', color: '#000' }
  })
  xAxis.push({
    type: 'value',
    gridIndex: i,
    min: 0,
    max: 1,
    interval: xTicksStep,
    axisLine: { show: true, onZero: false, lineStyle: { color: axisColor, width: 1 } },
    axisTick: { show: true, inside: true, length: 9, lineStyle: { color: axisColor } },
    axisLabel: {
      color: axisColor,
      fontFamily,
      fontSize: 15,
      margin: 9,
      formatter: (v) => String(Math.round(v * 10) / 10)
    },
    splitLine: { show: false }
  })
  yAxis.push({
    type: 'value',
    gridIndex: i,
    min: yRange[i][0],
    max: yRange[i][1],
    axisLine: { show: true, onZero: false, lineStyle: { color: axisColor, width: 1 } },
    axisTick: { show: true, inside: true, length: 9, customValues: yTicks[i], lineStyle: { color: axisColor } },
    axisLabel: { color: axisColor, fontFamily, fontSize: 15, margin: 6, customValues: yTicks[i] },
    splitLine: { show: false }
  })
  series.push({
    type: 'scatter',
    xAxisIndex: i,
    yAxisIndex: i,
    data: p.pts,
    symbol: 'circle',
    symbolSize: 4,
    itemStyle: { color: 'rgba(0,0,0,0)', borderColor: '#0072BD', borderWidth: 1 },
    emphasis: { disabled: true },
    silent: true
  })
  series.push({
    type: 'line',
    xAxisIndex: i,
    yAxisIndex: i,
    data: [[0, p.fit[0]], [1, p.fit[1]]],
    symbol: 'none',
    lineStyle: { color: '#FF0000', width: 1 },
    silent: true
  })
})

chart.setOption({
  backgroundColor: '#fff',
  animation: false,
  title,
  grid,
  xAxis,
  yAxis,
  series
})
</script>
</body>
</html>
